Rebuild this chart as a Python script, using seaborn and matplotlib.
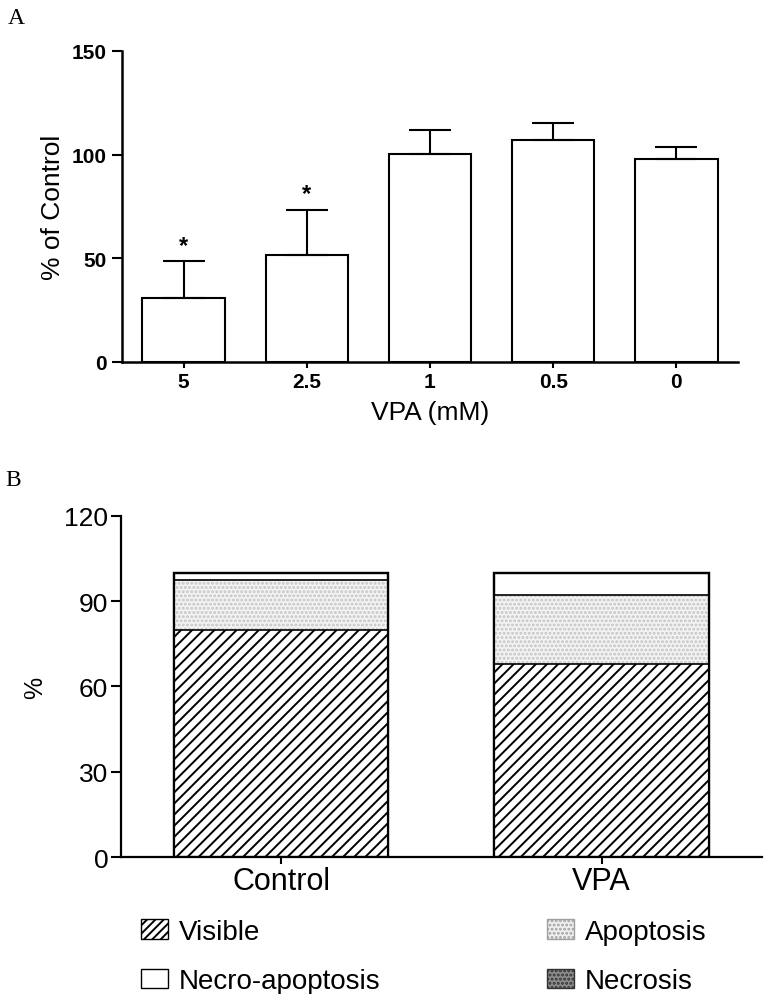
import matplotlib
matplotlib.use("Agg")
import matplotlib.pyplot as plt
from matplotlib.patches import Patch
import pandas as pd
import seaborn as sns

# panel A: viability vs VPA dose
doses = ["5", "2.5", "1", "0.5", "0"]
pct_control = [31, 51.5, 100.3, 107, 98]
sem = [17.6, 22, 11.7, 8.2, 5.8]
signif = ["*", "*", "", "", ""]

# panel B: cell death type
groups = ["Control", "VPA"]
visible = [80, 68]
apoptosis = [17.5, 24]
necro_apoptosis = [2.5, 8]
necrosis = [0, 0]

sns.set_theme(style="ticks")
plt.rcParams["font.family"] = ["Liberation Sans", "DejaVu Sans"]
plt.rcParams["hatch.linewidth"] = 1.4
for k in ["text.color", "axes.labelcolor", "xtick.color", "ytick.color",
          "axes.edgecolor"]:
    plt.rcParams[k] = "black"

fig = plt.figure(figsize=(7.66, 9.95), dpi=100)

# ---- A ----
axA = fig.add_axes([0.1593, 0.6352, 0.804, 0.3126])
dfA = pd.DataFrame({"dose": doses, "pct": pct_control})
sns.barplot(data=dfA, x="dose", y="pct", order=doses, color="white",
            edgecolor="black", linewidth=1.5, width=0.67, ax=axA)
axA.errorbar(range(len(doses)), pct_control, yerr=[[0] * len(sem), sem],
             fmt="none", ecolor="black", elinewidth=1.5, capsize=15, capthick=1.5,
             zorder=1)
for i, s in enumerate(signif):
    if s:
        axA.text(i, pct_control[i] + sem[i] + 2, s, ha="center", va="bottom",
                 fontsize=17, fontweight="bold")
axA.set_xlim(-0.5, 4.5)
axA.set_ylim(0, 150)
axA.set_yticks([0, 50, 100, 150])
axA.set_xlabel("VPA (mM)", fontsize=19, labelpad=7)
axA.set_ylabel("% of Control", fontsize=19, labelpad=5)
axA.tick_params(axis="y", labelsize=15, length=7, width=1.5, pad=4)
axA.tick_params(axis="x", labelsize=15, length=4, width=1.5, pad=3)
for t in axA.get_xticklabels() + axA.get_yticklabels():
    t.set_fontweight("bold")
sns.despine(ax=axA)
for sp in ["left", "bottom"]:
    axA.spines[sp].set_linewidth(1.8)

# ---- B ----
axB = fig.add_axes([0.1576, 0.1374, 0.837, 0.3433])
dfB = pd.DataFrame({"group": groups, "visible": visible,
                    "apoptosis": apoptosis, "necro": necro_apoptosis,
                    "necrosis": necrosis})
dfB["top_necro"] = dfB["visible"] + dfB["apoptosis"] + dfB["necro"] + dfB["necrosis"]
dfB["top_apop"] = dfB["visible"] + dfB["apoptosis"]

sns.barplot(data=dfB, x="group", y="top_necro", order=groups, color="white",
            edgecolor="black", linewidth=1.6, width=0.67, ax=axB)
sns.barplot(data=dfB, x="group", y="top_apop", order=groups, color="#f3f3f3",
            edgecolor="#c4c4c4", hatch="....", linewidth=0, width=0.67, ax=axB)
sns.barplot(data=dfB, x="group", y="visible", order=groups, color="white",
            edgecolor="black", hatch="///", linewidth=0, width=0.67, ax=axB)
# outlines of each segment
sns.barplot(data=dfB, x="group", y="top_apop", order=groups, fill=False,
            edgecolor="black", linewidth=1.2, width=0.67, ax=axB)
sns.barplot(data=dfB, x="group", y="visible", order=groups, fill=False,
            edgecolor="black", linewidth=1.2, width=0.67, ax=axB)
sns.barplot(data=dfB, x="group", y="top_necro", order=groups, fill=False,
            edgecolor="black", linewidth=1.6, width=0.67, ax=axB)

axB.set_xlim(-0.5, 1.5)
axB.set_ylim(0, 120)
axB.set_yticks([0, 30, 60, 90, 120])
axB.set_xlabel("")
axB.set_ylabel("%", fontsize=18, labelpad=12)
axB.tick_params(axis="y", labelsize=19, length=7, width=1.5, pad=2)
axB.tick_params(axis="x", labelsize=22, length=5, width=1.5, pad=1)
sns.despine(ax=axB)
for sp in ["left", "bottom"]:
    axB.spines[sp].set_linewidth(1.6)

handles = [
    Patch(facecolor="white", edgecolor="black", hatch="////", label="Visible"),
    Patch(facecolor="white", edgecolor="black", label="Necro-apoptosis"),
    Patch(facecolor="#f0f0f0", edgecolor="#a0a0a0", hatch="....", label="Apoptosis"),
    Patch(facecolor="#8c8c8c", edgecolor="#333333", hatch="....", label="Necrosis"),
]
fig.legend(handles=handles, ncol=2, loc="upper left",
           bbox_to_anchor=(0.170, 0.087), frameon=False, fontsize=20,
           handlelength=0.95, handleheight=0.7, handletextpad=0.4,
           columnspacing=6.0, labelspacing=0.85, borderaxespad=0)

fig.text(0.010, 0.992, "A", fontsize=17, family="Liberation Serif", va="top")
fig.text(0.007, 0.528, "B", fontsize=17, family="Liberation Serif", va="top")

fig.savefig("out.png", dpi=100)
